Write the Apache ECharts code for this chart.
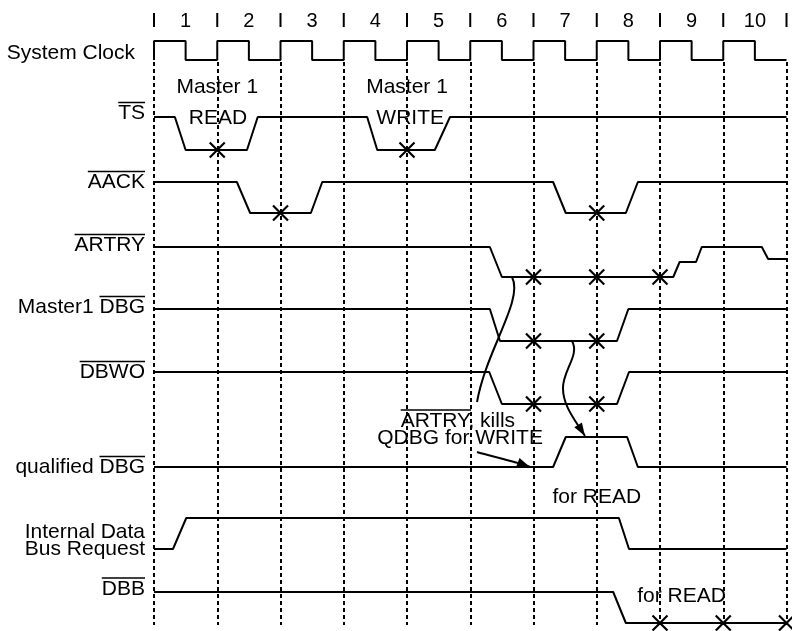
<!DOCTYPE html>
<html>
<head>
<meta charset="utf-8">
<script src="https://cdn.jsdelivr.net/npm/echarts@6/dist/echarts.min.js"></script>
<style>
html,body{margin:0;padding:0;background:#fff;}
#chart{width:792px;height:631px;}
</style>
</head>
<body>
<div id="chart"></div>
<script>
// ---------------- DATA ----------------
const cycleLabels = ['1','2','3','4','5','6','7','8','9','10'];
const cycleTicks = [0,1,2,3,4,5,6,7,8,9,10];

// waveforms: [time in clock cycles, level (1 = high, 0 = low)]
const clockWave = [[0,0],[0,1],[0.5,1],[0.5,0],[1,0],[1,1],[1.5,1],[1.5,0],[2,0],[2,1],[2.5,1],[2.5,0],
  [3,0],[3,1],[3.5,1],[3.5,0],[4,0],[4,1],[4.5,1],[4.5,0],[5,0],[5,1],[5.5,1],[5.5,0],[6,0],[6,1],
  [6.5,1],[6.5,0],[7,0],[7,1],[7.5,1],[7.5,0],[8,0],[8,1],[8.5,1],[8.5,0],[9,0],[9,1],[9.5,1],[9.5,0],[10,0]];
const tsWave    = [[0,1],[0.33,1],[0.5,0],[1.47,0],[1.64,1],[3.37,1],[3.53,0],[4.44,0],[4.68,1],[10,1]];
const aackWave  = [[0,1],[1.31,1],[1.52,0],[2.48,0],[2.66,1],[6.31,1],[6.51,0],[7.46,0],[7.65,1],[10,1]];
const artryWave = [[0,1],[5.31,1],[5.5,0],[8.21,0],[8.31,0.5],[8.57,0.5],[8.66,1],[9.61,1],[9.71,0.6],[10,0.6]];
const dbgWave   = [[0,1],[5.31,1],[5.47,0],[7.32,0],[7.5,1],[10,1]];
const dbwoWave  = [[0,1],[5.3,1],[5.5,0],[7.32,0],[7.51,1],[10,1]];
const qdbgWave  = [[0,0],[6.31,0],[6.51,1],[7.48,1],[7.65,0],[10,0]];
const idbrWave  = [[0,0],[0.3,0],[0.51,1],[7.35,1],[7.51,0],[10,0]];
const dbbWave   = [[0,1],[7.26,1],[7.46,0],[10,0]];

// sampling points (X marks), time in cycles, drawn on the low level
const tsCrosses    = [1,4];
const aackCrosses  = [2,7];
const artryCrosses = [6,7,8];
const dbgCrosses   = [6,7];
const dbwoCrosses  = [6,7];
const dbbCrosses   = [8,9,10];

// ---------------- LAYOUT ----------------
const FONT_FAMILY = '"Liberation Sans", Arial, Helvetica, sans-serif';
const FS = 21;
const FONT = FS + 'px ' + FONT_FAMILY;
const rows = [
  {key:'clock', wave:clockWave, crosses:[],           high:41,  amp:19},
  {key:'ts',    wave:tsWave,    crosses:tsCrosses,    high:117, amp:33},
  {key:'aack',  wave:aackWave,  crosses:aackCrosses,  high:182, amp:31},
  {key:'artry', wave:artryWave, crosses:artryCrosses, high:247, amp:30},
  {key:'dbg',   wave:dbgWave,   crosses:dbgCrosses,   high:309, amp:32},
  {key:'dbwo',  wave:dbwoWave,  crosses:dbwoCrosses,  high:372, amp:32},
  {key:'qdbg',  wave:qdbgWave,  crosses:[],           high:437, amp:30},
  {key:'idbr',  wave:idbrWave,  crosses:[],           high:518, amp:31},
  {key:'dbb',   wave:dbbWave,   crosses:dbbCrosses,   high:592, amp:31}
];
// left-hand labels: [text, overlined suffix, right edge px, centre y px]
const leftLabels = [
  ['System Clock', '', 135, 53.5],
  ['TS', 'TS', 145, 113.5],
  ['AACK', 'AACK', 145, 182.5],
  ['ARTRY', 'ARTRY', 145, 245.5],
  ['Master1 DBG', 'DBG', 145, 307.5],
  ['DBWO', 'DBWO', 145, 372.5],
  ['qualified DBG', 'DBG', 145, 467.5],
  ['Internal Data', '', 145, 532.5],
  ['Bus Request', '', 145, 549.5],
  ['DBB', 'DBB', 145, 589]
];

// in-chart annotations (data coordinates: cycle time, y units)
const notes = [
  {text:'Master 1', t:1.0,  y:87.5, align:'center'},
  {text:'READ',     t:1.01, y:118,  align:'center'},
  {text:'Master 1', t:4.0,  y:87.5, align:'center'},
  {text:'WRITE',    t:4.05, y:118,  align:'center'},
  {text:'ARTRY, kills', t:3.9, y:421, align:'left', over:'ARTRY'},
  {text:'QDBG for WRITE', t:3.53, y:438.5, align:'left'},
  {text:'for READ', t:7.0,  y:497, align:'center'},
  {text:'for READ', t:8.34, y:596, align:'center'}
];
// curves: list of cubic segments [[p0],[c1],[c2],[p3]] in (t, y)
const curves = [
  {segs:[[[5.66,277],[5.85,300],[5.25,350],[5.107,402]]], arrow:false},
  {segs:[[[6.609,341],[6.735,355],[6.466,370],[6.466,388]],
         [[6.466,388],[6.466,406],[6.656,420],[6.814,436]]], arrow:true},
  {segs:[[[5.107,452],[5.3,456],[5.7,461],[5.945,467]]], arrow:true}
];

// ---------------- CHART ----------------
const chart = echarts.init(document.getElementById('chart'), null, {renderer:'canvas'});
const mctx = document.createElement('canvas').getContext('2d');
function tw(s){ mctx.font = FONT; return mctx.measureText(s).width; }

const series = [];
rows.forEach(r => {
  series.push({
    type:'line', name:r.key, clip:false, silent:true, animation:false,
    showSymbol:false, symbol:'none',
    lineStyle:{color:'#000', width:2},
    data: r.wave.map(p => [p[0], r.high + (1 - p[1]) * r.amp])
  });
});
// crosses
const crossData = [];
rows.forEach(r => r.crosses.forEach(t => crossData.push([t, r.high + r.amp])));
series.push({
  type:'custom', clip:false, silent:true, animation:false,
  data: crossData,
  renderItem: (params, api) => {
    const c = api.coord([api.value(0), api.value(1)]);
    const h = 7.5;
    return {type:'group', children:[
      {type:'line', shape:{x1:c[0]-h, y1:c[1]-h, x2:c[0]+h, y2:c[1]+h}, style:{stroke:'#000', lineWidth:2.2}},
      {type:'line', shape:{x1:c[0]-h, y1:c[1]+h, x2:c[0]+h, y2:c[1]-h}, style:{stroke:'#000', lineWidth:2.2}}
    ]};
  }
});
// header: cycle ticks and numbers
series.push({
  type:'custom', clip:false, silent:true, animation:false,
  data: cycleTicks.map(t => [t, 20]),
  renderItem: (params, api) => {
    const i = params.dataIndex;
    const c = api.coord([api.value(0), api.value(1)]);
    const children = [
      {type:'line', shape:{x1:c[0], y1:c[1]-7, x2:c[0], y2:c[1]+7}, style:{stroke:'#000', lineWidth:2}}
    ];
    if (i < cycleLabels.length) {
      const m = api.coord([api.value(0) + 0.5, api.value(1)]);
      children.push({type:'text', x:m[0], y:m[1]+1,
        style:{text:cycleLabels[i], font:'20px ' + FONT_FAMILY, fill:'#000', align:'center', verticalAlign:'middle'}});
    }
    return {type:'group', children};
  }
});
// annotations
series.push({
  type:'custom', clip:false, silent:true, animation:false,
  data: [[0, 300]],
  renderItem: (params, api) => {
    const ch = [];
    notes.forEach(n => {
      const c = api.coord([n.t, n.y]);
      ch.push({type:'text', x:c[0], y:c[1],
        style:{text:n.text, font:FONT, fill:'#000', align:n.align, verticalAlign:'middle'}});
      if (n.over) {
        const w = tw(n.over);
        ch.push({type:'line', shape:{x1:c[0], y1:c[1]-11, x2:c[0]+w, y2:c[1]-11}, style:{stroke:'#000', lineWidth:1.5}});
      }
    });
    curves.forEach(cv => {
      let last = null;
      cv.segs.forEach(s => {
        const p = s.map(q => api.coord(q));
        ch.push({type:'bezierCurve', shape:{x1:p[0][0], y1:p[0][1], cpx1:p[1][0], cpy1:p[1][1],
          cpx2:p[2][0], cpy2:p[2][1], x2:p[3][0], y2:p[3][1]},
          style:{stroke:'#000', lineWidth:2, fill:null}});
        last = p;
      });
      if (cv.arrow) {
        const tip = last[3], from = last[2];
        let dx = tip[0]-from[0], dy = tip[1]-from[1];
        const L = Math.hypot(dx, dy); dx/=L; dy/=L;
        const len = 13, hw = 4.5;
        const bx = tip[0]-dx*len, by = tip[1]-dy*len;
        ch.push({type:'polygon', shape:{points:[[tip[0],tip[1]],[bx-dy*hw, by+dx*hw],[bx+dy*hw, by-dx*hw]]},
          style:{fill:'#000'}});
      }
    });
    return {type:'group', children:ch};
  }
});

// left labels (graphic)
const graphics = [];
leftLabels.forEach(l => {
  graphics.push({type:'text', x:l[2], y:l[3], silent:true,
    style:{text:l[0], font:FONT, fill:'#000', align:'right', verticalAlign:'middle'}});
  if (l[1]) {
    const w = tw(l[1]);
    graphics.push({type:'line', silent:true, shape:{x1:l[2]-w, y1:l[3]-11, x2:l[2], y2:l[3]-11},
      style:{stroke:'#000', lineWidth:1.5}});
  }
});

chart.setOption({
  animation:false,
  backgroundColor:'#fff',
  grid:{left:154, right:5.5, top:62, bottom:6, containLabel:false},
  xAxis:{type:'value', min:0, max:10, interval:1,
    axisLine:{show:false}, axisTick:{show:false}, axisLabel:{show:false},
    splitLine:{show:true, lineStyle:{color:'#000', width:2, type:[4,3]}}},
  yAxis:{type:'value', min:62, max:625, inverse:true, show:false, splitLine:{show:false}},
  graphic: graphics,
  series
});
</script>
</body>
</html>
